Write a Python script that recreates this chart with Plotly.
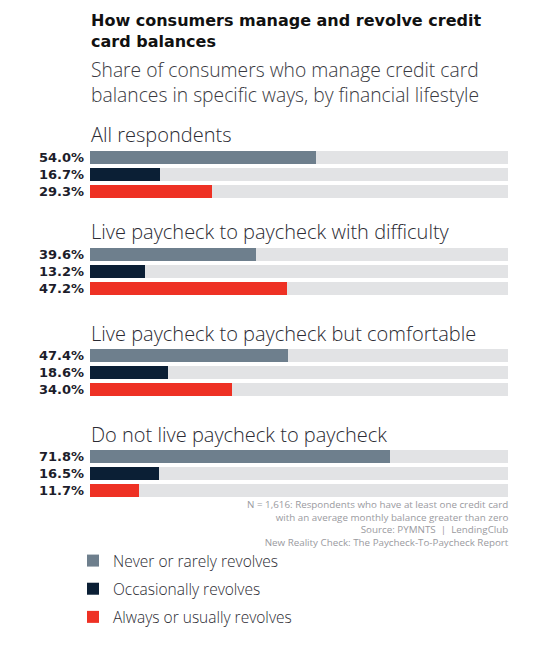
import plotly.graph_objects as go
from plotly.subplots import make_subplots

groups = [
    "All respondents",
    "Live paycheck to paycheck with difficulty",
    "Live paycheck to paycheck but comfortable",
    "Do not live paycheck to paycheck",
]
series = ["Never or rarely revolves", "Occasionally revolves", "Always or usually revolves"]
never_rarely = [54.0, 39.6, 47.4, 71.8]
occasionally = [16.7, 13.2, 18.6, 16.5]
always_usually = [29.3, 47.2, 34.0, 11.7]
full_scale = 100

title = "How consumers manage and revolve credit<br>card balances"
subtitle = "Share of consumers who manage credit card<br>balances in specific ways, by financial lifestyle"
footnote = ("N = 1,616: Respondents who have at least one credit card<br>"
            "with an average monthly balance greater than zero<br>"
            "Source: PYMNTS  |  LendingClub<br>"
            "New Reality Check: The Paycheck-To-Paycheck Report")

colors = ["#6e7f8d", "#0b1f35", "#ee3124"]
track = "#e2e3e5"
PAGE_W, PAGE_H = 538, 647
OFF = 8  # default body margin of the html page
W, H = PAGE_W - OFF, PAGE_H - OFF
FONT = "Open Sans"


# helpers take page pixel positions and return paper coordinates
def px_x(v):
    return (v - OFF) / W


def px_y(v):
    return 1 - (v - OFF) / H


values = [never_rarely, occasionally, always_usually]
group_tops = [149, 246, 347, 448]  # top of each block of three rows, px
x_left, x_right = 90, 508

fig = make_subplots(rows=len(groups), cols=1)

for g, name in enumerate(groups):
    row = g + 1
    fig.add_trace(go.Bar(y=series, x=[full_scale] * len(series), orientation="h",
                         marker=dict(color=track, line_width=0), width=0.78,
                         hoverinfo="skip", showlegend=False), row=row, col=1)
    for s, sname in enumerate(series):
        fig.add_trace(go.Bar(y=[sname], x=[values[s][g]], orientation="h", name=sname,
                             marker=dict(color=colors[s], line_width=0), width=0.78,
                             legendgroup=sname, showlegend=(g == 0)), row=row, col=1)
    top = group_tops[g]
    yname = "yaxis" if row == 1 else f"yaxis{row}"
    xname = "xaxis" if row == 1 else f"xaxis{row}"
    fig.layout[yname].update(domain=[px_y(top + 51), px_y(top)], autorange="reversed",
                             tickvals=series, ticktext=[f"<b>{values[s][g]:.1f}%</b>" for s in range(3)],
                             tickfont=dict(family="DejaVu Sans", size=13, color="#1d1d2b"),
                             ticks="", showgrid=False, zeroline=False, showline=False,
                             ticklabelstandoff=5, fixedrange=True)
    fig.layout[xname].update(domain=[px_x(x_left), px_x(x_right)], range=[0, full_scale],
                             visible=False, fixedrange=True)
    fig.add_annotation(text=name, xref="paper", yref="paper", x=px_x(x_left - 1), y=px_y(top - 14),
                       xanchor="left", yanchor="middle", showarrow=False,
                       font=dict(family=FONT, size=20, color="#2b2b33", weight=300))

fig.add_annotation(text=f"<b>{title}</b>", xref="paper", yref="paper", x=px_x(89), y=px_y(9),
                   xanchor="left", yanchor="top", align="left", showarrow=False,
                   font=dict(family="DejaVu Sans", size=16, color="#111111"))
fig.add_annotation(text=subtitle, xref="paper", yref="paper", x=px_x(89), y=px_y(54),
                   xanchor="left", yanchor="top", align="left", showarrow=False,
                   font=dict(family=FONT, size=19.3, color="#3a3a42", weight=300))
fig.add_annotation(text=footnote, xref="paper", yref="paper", x=px_x(x_right + 3), y=px_y(496),
                   xanchor="right", yanchor="top", align="right", showarrow=False,
                   font=dict(family=FONT, size=9.8, color="#9a9aa0"))

fig.update_layout(
    width=W, height=H, barmode="overlay", bargap=0,
    margin=dict(l=0, r=0, t=0, b=0),
    paper_bgcolor="white", plot_bgcolor="white",
    showlegend=True,
    legend=dict(x=px_x(73), y=px_y(544), xanchor="left", yanchor="top",
                font=dict(family=FONT, size=15.5, color="#2b2b33", weight=300),
                tracegroupgap=5, bgcolor="rgba(0,0,0,0)"),
)

fig.write_html("out.html")
